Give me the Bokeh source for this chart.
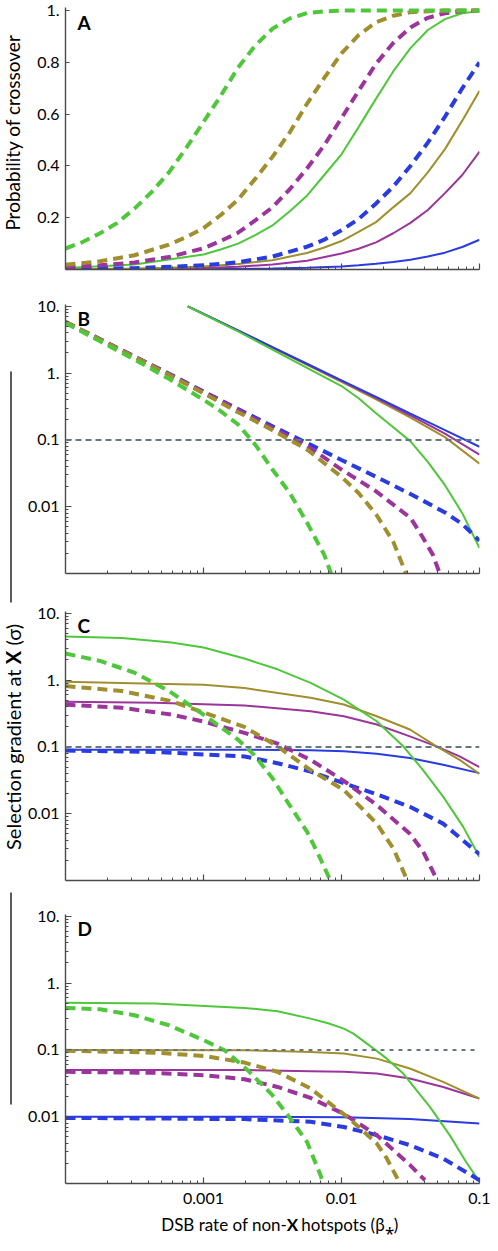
import math
from bokeh.plotting import figure
from bokeh.models import Range1d, FixedTicker, Label, Span
from bokeh.layouts import column, row
from bokeh.core.properties import value
from bokeh.embed import file_html
from bokeh.resources import INLINE

FONT = "Lato"
GREEN = "#4ec83a"
OLIVE = "#a08f2e"
PURPLE = "#9b359b"
BLUE = "#2a3be0"
AXC = "#4a4a4a"
REFC = "#66767e"

# ---------------- Panel A: probability of crossover ----------------
A_x_green_dash = [1e-4, 1.33e-4, 1.78e-4, 2.37e-4, 3.16e-4, 4.22e-4, 5.62e-4, 7.5e-4, 1e-3, 1.33e-3, 1.78e-3, 2.37e-3, 3.16e-3, 4.22e-3, 5.62e-3, 7.5e-3, 1e-2, 1e-1]
A_y_green_dash = [0.081, 0.106, 0.14, 0.18, 0.235, 0.30, 0.375, 0.47, 0.57, 0.67, 0.78, 0.865, 0.93, 0.97, 0.99, 0.997, 1.0, 1.0]
A_x_olive_dash = [1e-4, 1.78e-4, 3.16e-4, 5.62e-4, 7.5e-4, 1e-3, 1.33e-3, 1.78e-3, 2.37e-3, 3.16e-3, 4.22e-3, 5.62e-3, 7.5e-3, 1e-2, 1.33e-2, 1.78e-2, 2.37e-2, 3.16e-2, 5.62e-2, 1e-1]
A_y_olive_dash = [0.018, 0.032, 0.055, 0.096, 0.125, 0.16, 0.21, 0.27, 0.35, 0.435, 0.53, 0.64, 0.74, 0.835, 0.905, 0.955, 0.98, 0.994, 1.0, 1.0]
A_x_purple_dash = [1e-4, 1.78e-4, 3.16e-4, 5.62e-4, 1e-3, 1.33e-3, 1.78e-3, 2.37e-3, 3.16e-3, 4.22e-3, 5.62e-3, 7.5e-3, 1e-2, 1.33e-2, 1.78e-2, 2.37e-2, 3.16e-2, 4.22e-2, 5.62e-2, 7.5e-2, 1e-1]
A_y_purple_dash = [0.009, 0.016, 0.027, 0.048, 0.082, 0.11, 0.142, 0.19, 0.24, 0.31, 0.39, 0.48, 0.585, 0.69, 0.795, 0.875, 0.935, 0.972, 0.99, 0.998, 1.0]
A_x_blue_dash = [1e-4, 3.16e-4, 1e-3, 1.78e-3, 3.16e-3, 5.62e-3, 7.5e-3, 1e-2, 1.33e-2, 1.78e-2, 2.37e-2, 3.16e-2, 4.22e-2, 5.62e-2, 7.5e-2, 1e-1]
A_y_blue_dash = [0.0016, 0.005, 0.016, 0.028, 0.05, 0.088, 0.115, 0.152, 0.195, 0.255, 0.32, 0.40, 0.49, 0.59, 0.70, 0.80]
A_x_green = [1e-4, 3.16e-4, 1e-3, 1.33e-3, 1.78e-3, 2.37e-3, 3.16e-3, 4.22e-3, 5.62e-3, 7.5e-3, 1e-2, 1.33e-2, 1.78e-2, 2.37e-2, 3.16e-2, 4.22e-2, 5.62e-2, 7.5e-2, 1e-1]
A_y_green = [0.006, 0.019, 0.058, 0.077, 0.10, 0.133, 0.17, 0.225, 0.285, 0.365, 0.445, 0.55, 0.66, 0.765, 0.855, 0.925, 0.967, 0.99, 0.998]
A_x_olive = [1e-4, 3.16e-4, 5.62e-4, 1e-3, 1.78e-3, 3.16e-3, 5.62e-3, 7.5e-3, 1e-2, 1.33e-2, 1.78e-2, 2.37e-2, 3.16e-2, 4.22e-2, 5.62e-2, 7.5e-2, 1e-1]
A_y_olive = [0.0012, 0.0038, 0.0068, 0.012, 0.021, 0.036, 0.064, 0.085, 0.11, 0.145, 0.183, 0.24, 0.295, 0.375, 0.465, 0.575, 0.69]
A_x_purple = [1e-4, 3.16e-4, 1e-3, 1.78e-3, 3.16e-3, 5.62e-3, 1e-2, 1.33e-2, 1.78e-2, 2.37e-2, 3.16e-2, 4.22e-2, 5.62e-2, 7.5e-2, 1e-1]
A_y_purple = [0.0006, 0.0019, 0.006, 0.011, 0.019, 0.034, 0.062, 0.08, 0.105, 0.14, 0.18, 0.23, 0.295, 0.365, 0.455]
A_x_blue = [1e-4, 1e-3, 3.16e-3, 5.62e-3, 1e-2, 1.33e-2, 1.78e-2, 2.37e-2, 3.16e-2, 4.22e-2, 5.62e-2, 7.5e-2, 1e-1]
A_y_blue = [0.0001, 0.0012, 0.004, 0.0068, 0.012, 0.016, 0.022, 0.029, 0.038, 0.05, 0.065, 0.087, 0.115]

# ---------------- Panel B ----------------
B_x_solid = [7.7e-4, 1e-3, 1.78e-3, 3.16e-3, 5.62e-3, 1e-2, 1.78e-2, 3.16e-2, 5.62e-2, 1e-1]
B_y_blue = [10, 7.7, 4.35, 2.45, 1.38, 0.78, 0.44, 0.247, 0.14, 0.079]
B_y_purple = [10, 7.7, 4.33, 2.43, 1.36, 0.765, 0.425, 0.232, 0.124, 0.060]
B_y_olive = [10, 7.7, 4.3, 2.4, 1.33, 0.74, 0.405, 0.215, 0.11, 0.044]
B_x_green = [7.7e-4, 1e-3, 1.78e-3, 3.16e-3, 5.62e-3, 1e-2, 1.33e-2, 1.78e-2, 2.37e-2, 3.16e-2, 4.22e-2, 5.62e-2, 7.5e-2, 1e-1]
B_y_green = [10, 7.6, 4.2, 2.25, 1.2, 0.64, 0.42, 0.25, 0.155, 0.095, 0.047, 0.021, 0.008, 0.0024]
B_x_blue_dash = [1e-4, 1.78e-4, 3.16e-4, 5.62e-4, 1e-3, 1.78e-3, 3.16e-3, 5.62e-3, 1e-2, 1.78e-2, 3.16e-2, 5.62e-2, 7.5e-2, 1e-1]
B_y_blue_dash = [5.8, 3.22, 1.77, 0.98, 0.53, 0.29, 0.16, 0.09, 0.05, 0.028, 0.0155, 0.0082, 0.0055, 0.0031]
B_x_purple_dash = [1e-4, 1.78e-4, 3.16e-4, 5.62e-4, 1e-3, 1.78e-3, 3.16e-3, 5.62e-3, 1e-2, 1.78e-2, 3.16e-2, 3.7e-2, 4.6e-2, 5.15e-2]
B_y_purple_dash = [5.8, 3.2, 1.76, 0.96, 0.52, 0.28, 0.15, 0.082, 0.036, 0.017, 0.0068, 0.0041, 0.0019, 0.001]
B_x_olive_dash = [1e-4, 1.78e-4, 3.16e-4, 5.62e-4, 1e-3, 1.78e-3, 3.16e-3, 5.62e-3, 1e-2, 1.33e-2, 1.78e-2, 2.37e-2, 2.93e-2]
B_y_olive_dash = [5.8, 3.18, 1.74, 0.94, 0.5, 0.26, 0.14, 0.072, 0.028, 0.016, 0.0077, 0.003, 0.001]
B_x_green_dash = [1e-4, 1.78e-4, 3.16e-4, 5.62e-4, 1e-3, 1.33e-3, 1.78e-3, 2.37e-3, 3.16e-3, 4.22e-3, 5.62e-3, 7.5e-3, 8.4e-3]
B_y_green_dash = [5.6, 3.0, 1.6, 0.82, 0.4, 0.27, 0.17, 0.085, 0.036, 0.016, 0.0058, 0.0019, 0.001]

# ---------------- Panel C ----------------
C_x_green = [1e-4, 2.56e-4, 5.86e-4, 1e-3, 1.98e-3, 3.44e-3, 5.97e-3, 1.04e-2, 1.8e-2, 2.8e-2, 3.9e-2, 5.45e-2, 7.6e-2, 1e-1]
C_y_green = [4.5, 4.26, 3.66, 3.08, 2.10, 1.45, 0.91, 0.51, 0.242, 0.102, 0.045, 0.018, 0.0064, 0.00225]
C_x_olive = [1e-4, 4.45e-4, 1e-3, 1.98e-3, 5.97e-3, 1.04e-2, 1.8e-2, 3.13e-2, 4.88e-2, 7.18e-2, 1e-1]
C_y_olive = [0.946, 0.883, 0.85, 0.76, 0.545, 0.432, 0.288, 0.182, 0.102, 0.064, 0.0395]
C_x_purple = [1e-4, 4.45e-4, 1.98e-3, 5.97e-3, 1.04e-2, 1.8e-2, 3.13e-2, 4.88e-2, 7.18e-2, 1e-1]
C_y_purple = [0.473, 0.457, 0.417, 0.343, 0.288, 0.216, 0.144, 0.102, 0.072, 0.0498]
C_x_blue = [1e-4, 1.98e-3, 5.97e-3, 1.04e-2, 1.8e-2, 3.13e-2, 5.45e-2, 1e-1]
C_y_blue = [0.091, 0.091, 0.089, 0.086, 0.079, 0.068, 0.054, 0.0405]
C_x_green_dash = [1e-4, 1.78e-4, 3.16e-4, 5.62e-4, 1e-3, 1.78e-3, 2.33e-3, 3.16e-3, 4.05e-3, 5.62e-3, 7.05e-3, 8.3e-3]
C_y_green_dash = [2.5, 1.94, 1.29, 0.686, 0.305, 0.128, 0.076, 0.034, 0.0151, 0.0054, 0.0021, 0.001]
C_x_olive_dash = [1e-4, 2.56e-4, 5.86e-4, 1.02e-3, 1.98e-3, 3.44e-3, 5.97e-3, 1.04e-2, 1.8e-2, 2.38e-2, 2.96e-2]
C_y_olive_dash = [0.815, 0.686, 0.484, 0.323, 0.199, 0.102, 0.045, 0.0227, 0.0071, 0.003, 0.00106]
C_x_purple_dash = [1e-4, 2.56e-4, 5.86e-4, 1.02e-3, 1.98e-3, 3.44e-3, 5.97e-3, 1.04e-2, 1.8e-2, 3.13e-2, 3.91e-2, 4.88e-2]
C_y_purple_dash = [0.43, 0.385, 0.305, 0.237, 0.162, 0.112, 0.064, 0.031, 0.0135, 0.005, 0.0027, 0.00106]
C_x_blue_dash = [1e-4, 4.45e-4, 1.98e-3, 3.44e-3, 5.97e-3, 1.04e-2, 1.8e-2, 3.13e-2, 5.45e-2, 1e-1]
C_y_blue_dash = [0.088, 0.084, 0.072, 0.057, 0.0428, 0.0286, 0.0195, 0.0127, 0.0071, 0.00247]

# ---------------- Panel D ----------------
D_x_green = [1e-4, 4.45e-4, 1.98e-3, 3.44e-3, 5.97e-3, 8e-3, 1.04e-2, 1.22e-2, 1.75e-2, 2.13e-2, 2.8e-2, 4.37e-2, 6.08e-2, 8.0e-2, 1e-1]
D_y_green = [0.51, 0.493, 0.425, 0.38, 0.294, 0.25, 0.208, 0.175, 0.101, 0.074, 0.0443, 0.014, 0.0053, 0.0021, 0.00106]
D_x_olive = [1e-4, 1.98e-3, 5.97e-3, 1.04e-2, 1.8e-2, 3.13e-2, 5.45e-2, 1e-1]
D_y_olive = [0.1, 0.099, 0.093, 0.088, 0.074, 0.0526, 0.0332, 0.0187]
D_x_purple = [1e-4, 1.98e-3, 5.97e-3, 1.04e-2, 1.8e-2, 3.13e-2, 5.45e-2, 1e-1]
D_y_purple = [0.05, 0.05, 0.048, 0.0469, 0.0443, 0.0372, 0.0279, 0.0187]
D_x_blue = [1e-4, 1.98e-3, 1.04e-2, 3.13e-2, 1e-1]
D_y_blue = [0.01, 0.01, 0.0098, 0.0092, 0.0079]
D_x_green_dash = [1e-4, 1.78e-4, 3.16e-4, 5.62e-4, 1e-3, 1.42e-3, 2.09e-3, 3.16e-3, 4.17e-3, 5.62e-3, 7.05e-3, 7.36e-3]
D_y_green_dash = [0.425, 0.405, 0.33, 0.234, 0.14, 0.099, 0.0497, 0.021, 0.00995, 0.0042, 0.00133, 0.001]
D_x_olive_dash = [1e-4, 4.45e-4, 1.02e-3, 1.98e-3, 3.44e-3, 5.97e-3, 1.1e-2, 1.8e-2, 2.13e-2, 2.58e-2]
D_y_olive_dash = [0.097, 0.091, 0.081, 0.0646, 0.0469, 0.0264, 0.00995, 0.004, 0.00237, 0.00112]
D_x_purple_dash = [1e-4, 4.45e-4, 1.02e-3, 1.98e-3, 3.44e-3, 5.97e-3, 1.04e-2, 1.8e-2, 3.13e-2, 4.02e-2]
D_y_purple_dash = [0.047, 0.0453, 0.0418, 0.0364, 0.0279, 0.0191, 0.011, 0.0053, 0.0019, 0.00112]
D_x_blue_dash = [1e-4, 1.98e-3, 5.97e-3, 1.04e-2, 1.8e-2, 3.13e-2, 5.45e-2, 1e-1]
D_y_blue_dash = [0.0096, 0.0092, 0.0084, 0.007, 0.0053, 0.00375, 0.00237, 0.00112]

# ticks / labels
X_MAJOR = [1e-3, 1e-2, 1e-1]
X_MINOR = [k * 10.0 ** e for e in (-4, -3, -2) for k in range(2, 10)]
X_LABELS = {1e-3: "0.001", 1e-2: "0.01", 1e-1: "0.1"}
YLOG_MAJOR = [0.01, 0.1, 1, 10]
YLOG_MINOR = [k * 10.0 ** e for e in (-3, -2, -1, 0) for k in range(2, 10)]
YLOG_LABELS = {0.01: "0.01", 0.1: "0.1", 1: "1.", 10: "10."}
YA_MAJOR = [0.2, 0.4, 0.6, 0.8, 1.0]
YA_LABELS = {0.2: "0.2", 0.4: "0.4", 0.6: "0.6", 0.8: "0.8", 1.0: "1."}
REF_LEVEL = 0.1

LW = 24          # left strip width (axis titles)
W = 466          # panel width
SOLID_W = 2.0
DASH_W = 4.0
DASH = "10 6"


def make_fig(height, top, bottom, ylog, yrange, show_x):
    p = figure(width=W, height=height, x_axis_type="log",
               y_axis_type="log" if ylog else "linear",
               x_range=Range1d(1e-4, 0.1), y_range=Range1d(*yrange),
               output_backend="svg", toolbar_location=None,
               min_border_left=38, min_border_right=11,
               min_border_top=top, min_border_bottom=bottom)
    p.grid.visible = False
    p.outline_line_color = None
    xa = p.xaxis[0]
    ya = p.yaxis[0]
    xa.ticker = FixedTicker(ticks=X_MAJOR, minor_ticks=X_MINOR)
    if ylog:
        ya.ticker = FixedTicker(ticks=YLOG_MAJOR, minor_ticks=YLOG_MINOR)
        ya.major_label_overrides = YLOG_LABELS
        ya.major_tick_in = 6
        ya.minor_tick_in = 3
    else:
        ya.ticker = FixedTicker(ticks=YA_MAJOR)
        ya.major_label_overrides = YA_LABELS
        ya.major_tick_in = 4
        ya.minor_tick_in = 0
    for ax in (xa, ya):
        ax.axis_line_color = AXC
        ax.axis_line_width = 1.4
        ax.major_tick_line_color = AXC
        ax.minor_tick_line_color = AXC
        ax.major_tick_line_width = 1.2
        ax.minor_tick_line_width = 1.0
        ax.major_tick_out = 0
        ax.minor_tick_out = 0
        ax.major_label_text_font = FONT
        ax.major_label_text_font_size = "16px"
        ax.major_label_text_color = "black"
    xa.major_tick_in = 6
    xa.minor_tick_in = 3
    ya.major_label_standoff = 6
    if show_x:
        xa.major_label_overrides = X_LABELS
        xa.major_label_standoff = 9
    else:
        xa.major_label_overrides = {1e-3: "", 1e-2: "", 1e-1: ""}
        xa.major_label_standoff = 0
    return p


def curve(p, xs, ys, color, dashed):
    if dashed:
        p.line(xs, ys, line_color=color, line_width=DASH_W, line_dash=DASH)
    else:
        p.line(xs, ys, line_color=color, line_width=SOLID_W)


def letter(p, txt, fh, drop):
    p.add_layout(Label(x=12, y=fh - drop, x_units="screen", y_units="screen",
                       text=txt, text_font=FONT, text_font_style="bold",
                       text_font_size="19px", text_color="black",
                       text_baseline="alphabetic"))


def ref_line(p, dash):
    p.add_layout(Span(location=REF_LEVEL, dimension="width", line_color=REFC,
                      line_width=2, line_dash=dash))


LOG_RANGE = (0.001, 10.64)

# Panel A  (frame: 262 px tall)
pA = make_fig(287, 7, 18, False, (0, 1.012), False)
curve(pA, A_x_blue, A_y_blue, BLUE, False)
curve(pA, A_x_purple, A_y_purple, PURPLE, False)
curve(pA, A_x_olive, A_y_olive, OLIVE, False)
curve(pA, A_x_green, A_y_green, GREEN, False)
curve(pA, A_x_blue_dash, A_y_blue_dash, BLUE, True)
curve(pA, A_x_purple_dash, A_y_purple_dash, PURPLE, True)
curve(pA, A_x_olive_dash, A_y_olive_dash, OLIVE, True)
curve(pA, A_x_green_dash, A_y_green_dash, GREEN, True)
letter(pA, "A", 262, 15)

# Panel B
pB = make_fig(305, 17, 19, True, LOG_RANGE, False)
ref_line(pB, "6 4")
curve(pB, B_x_solid, B_y_olive, OLIVE, False)
curve(pB, B_x_solid, B_y_purple, PURPLE, False)
curve(pB, B_x_solid, B_y_blue, BLUE, False)
curve(pB, B_x_green, B_y_green, GREEN, False)
curve(pB, B_x_blue_dash, B_y_blue_dash, BLUE, True)
curve(pB, B_x_purple_dash, B_y_purple_dash, PURPLE, True)
curve(pB, B_x_olive_dash, B_y_olive_dash, OLIVE, True)
curve(pB, B_x_green_dash, B_y_green_dash, GREEN, True)
letter(pB, "B", 269, 14)

# Panel C
pC = make_fig(305, 19, 17, True, LOG_RANGE, False)
ref_line(pC, "6 4")
curve(pC, C_x_blue, C_y_blue, BLUE, False)
curve(pC, C_x_purple, C_y_purple, PURPLE, False)
curve(pC, C_x_olive, C_y_olive, OLIVE, False)
curve(pC, C_x_green, C_y_green, GREEN, False)
curve(pC, C_x_blue_dash, C_y_blue_dash, BLUE, True)
curve(pC, C_x_purple_dash, C_y_purple_dash, PURPLE, True)
curve(pC, C_x_olive_dash, C_y_olive_dash, OLIVE, True)
curve(pC, C_x_green_dash, C_y_green_dash, GREEN, True)
letter(pC, "C", 269, 14)

# Panel D
pD = make_fig(314, 17, 28, True, LOG_RANGE, True)
ref_line(pD, "4 5")
curve(pD, D_x_blue, D_y_blue, BLUE, False)
curve(pD, D_x_purple, D_y_purple, PURPLE, False)
curve(pD, D_x_olive, D_y_olive, OLIVE, False)
curve(pD, D_x_green, D_y_green, GREEN, False)
curve(pD, D_x_blue_dash, D_y_blue_dash, BLUE, True)
curve(pD, D_x_purple_dash, D_y_purple_dash, PURPLE, True)
curve(pD, D_x_olive_dash, D_y_olive_dash, OLIVE, True)
curve(pD, D_x_green_dash, D_y_green_dash, GREEN, True)
letter(pD, "D", 269, 14)

# bottom strip: x-axis title (absolute x = 8 + LW + strip x)
STRIP_H = 24
X0 = 8 + LW
pX = figure(width=W, height=STRIP_H, x_range=Range1d(0, W), y_range=Range1d(0, STRIP_H),
            output_backend="svg", toolbar_location=None, min_border=0)
pX.axis.visible = False
pX.grid.visible = False
pX.outline_line_color = None
pX.text(x=[281.5 - X0], y=[11], text=["DSB rate of non-"], text_align="right", text_baseline="middle",
        text_font=value(FONT), text_font_size="17px", text_color="black")
pX.text(x=[287.5 - X0], y=[11], text=["X"], text_align="center", text_baseline="middle",
        text_font=value(FONT), text_font_size="17px", text_font_style="bold", text_color="black")
pX.text(x=[297.5 - X0], y=[11], text=["hotspots (β⁎)"], text_align="left", text_baseline="middle",
        text_font=value(FONT), text_font_size="17px", text_color="black")

TOTAL_H = 287 + 305 + 305 + 314 + STRIP_H
pL = figure(width=LW, height=TOTAL_H, x_range=Range1d(0, LW), y_range=Range1d(0, TOTAL_H),
            output_backend="svg", toolbar_location=None, min_border=0)
pL.axis.visible = False
pL.grid.visible = False
pL.outline_line_color = None


def sy(y_abs):
    # absolute page y -> strip data y
    return TOTAL_H + 8 - y_abs


pL.text(x=[12], y=[sy(140)], text=["Probability of crossover"], angle=math.pi / 2,
        text_align="center", text_baseline="middle",
        text_font=value(FONT), text_font_size="19px", text_color="black")
pL.text(x=[12], y=[sy(677)], text=["Selection gradient at"], angle=math.pi / 2,
        text_align="right", text_baseline="middle",
        text_font=value(FONT), text_font_size="20px", text_color="black")
pL.text(x=[12], y=[sy(665)], text=["X"], angle=math.pi / 2,
        text_align="center", text_baseline="middle",
        text_font=value(FONT), text_font_size="20px", text_font_style="bold", text_color="black")
pL.text(x=[12], y=[sy(653)], text=["(σ)"], angle=math.pi / 2,
        text_align="left", text_baseline="middle",
        text_font=value(FONT), text_font_size="20px", text_color="black")
pL.segment(x0=[10.5, 10.5], y0=[sy(379), sy(900)], x1=[10.5, 10.5], y1=[sy(610), sy(1112)],
           line_color="black", line_width=1.3)

layout = row(pL, column(pA, pB, pC, pD, pX, spacing=0), spacing=0)

open("out.html", "w").write(file_html(layout, INLINE))
